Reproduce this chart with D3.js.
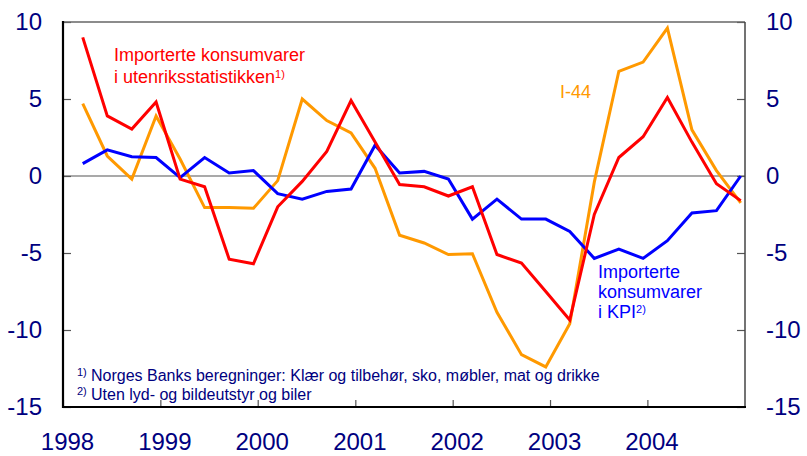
<!DOCTYPE html>
<html>
<head>
<meta charset="utf-8">
<script src="https://cdn.jsdelivr.net/npm/d3@7"></script>
<style>
  body { margin: 0; background: #fff; }
  svg text { font-family: "Liberation Sans", Arial, sans-serif; }
</style>
</head>
<body>
<div id="chart"></div>
<script>
/********** Data **********/
// quarterly observations, 1998Q1 - 2004Q4 (plotted at the last month of each quarter)
var years = [1998, 1999, 2000, 2001, 2002, 2003, 2004]
var quarters = []
years.forEach(function(y) { for (var q = 1; q <= 4; q++) quarters.push({year: y, q: q}) })

// Importerte konsumvarer i utenriksstatistikken
var utenriks = [9.0, 3.9, 3.05, 4.8, -0.2, -0.7, -5.4, -5.7,
                -2.0, -0.35, 1.6, 4.9, 2.2, -0.55, -0.7, -1.3,
                -0.7, -5.1, -5.65, -7.5, -9.35, -2.5, 1.2, 2.55,
                5.1, 2.2, -0.5, -1.6]
// I-44
var i44 = [4.7, 1.3, -0.2, 3.9, 1.1, -2.05, -2.05, -2.1,
           -0.3, 5.0, 3.6, 2.8, 0.5, -3.85, -4.35, -5.1,
           -5.05, -8.85, -11.6, -12.4, -9.6, -0.4, 6.8, 7.4,
           9.6, 3.0, 0.35, -1.75]
// Importerte konsumvarer i KPI
var kpi = [0.8, 1.7, 1.25, 1.2, -0.1, 1.2, 0.2, 0.35,
           -1.15, -1.5, -1.0, -0.85, 2.0, 0.2, 0.3, -0.2,
           -2.8, -1.5, -2.8, -2.8, -3.6, -5.35, -4.75, -5.35,
           -4.2, -2.4, -2.25, 0.0]

var yTicks = [-15, -10, -5, 0, 5, 10]
var xTickYears = [1998, 1999, 2000, 2001, 2002, 2003, 2004]

var navy = "#000080"

/********** Layout **********/
var width = 807, height = 456
var margin = {top: 22, right: 62, bottom: 49, left: 63}

var svg = d3.select("#chart").append("svg")
    .attr("width", width)
    .attr("height", height)

var x = d3.scaleTime()
    .domain([new Date(1998, 0, 1), new Date(2005, 0, 1)])
    .range([margin.left, width - margin.right])

var y = d3.scaleLinear()
    .domain([-15, 10])
    .range([height - margin.bottom, margin.top])

function qDate(d) { return new Date(d.year, (d.q - 1) * 3 + 2, 16) }

// plain hyphen for negatives, like the original
var yFormat = function(d) { return String(d) }

/********** Axes **********/
var left = svg.append("g")
    .attr("transform", "translate(" + margin.left + ",0)")
    .call(d3.axisLeft(y).tickValues(yTicks).tickFormat(yFormat).tickSize(-8).tickPadding(21))
var right = svg.append("g")
    .attr("transform", "translate(" + (width - margin.right) + ",0)")
    .call(d3.axisRight(y).tickValues(yTicks).tickFormat(yFormat).tickSize(-8).tickPadding(21))
var bottom = svg.append("g")
    .attr("transform", "translate(0," + (height - margin.bottom) + ")")
    .call(d3.axisBottom(x)
      .tickValues(xTickYears.map(function(v) { return new Date(v, 0, 1) }))
      .tickFormat(d3.timeFormat("%Y"))
      .tickSize(-7).tickPadding(26))

;[left, right, bottom].forEach(function(g) {
  g.select(".domain").remove()
  g.selectAll(".tick line").attr("stroke", "#555").attr("stroke-width", 1.2)
  g.selectAll(".tick text").attr("fill", navy).style("font-size", "24px")
})
bottom.selectAll(".tick text").attr("x", 4)

// zero line
svg.append("line")
    .attr("x1", x.range()[0]).attr("x2", x.range()[1])
    .attr("y1", y(0)).attr("y2", y(0))
    .attr("stroke", "#555").attr("stroke-width", 1.2)

// frame
svg.append("line")
    .attr("x1", x.range()[0]).attr("x2", x.range()[1])
    .attr("y1", y(10)).attr("y2", y(10))
    .attr("stroke", "#666").attr("stroke-width", 1.5)
svg.append("line")
    .attr("x1", x.range()[1]).attr("x2", x.range()[1])
    .attr("y1", y(10)).attr("y2", y(-15))
    .attr("stroke", "#444").attr("stroke-width", 1.5)
svg.append("line")
    .attr("x1", x.range()[0]).attr("x2", x.range()[0])
    .attr("y1", y(10) - 1).attr("y2", y(-15) + 1)
    .attr("stroke", "#000").attr("stroke-width", 2.2)
svg.append("line")
    .attr("x1", x.range()[0] - 1).attr("x2", x.range()[1] + 1)
    .attr("y1", y(-15)).attr("y2", y(-15))
    .attr("stroke", "#000").attr("stroke-width", 2.2)

/********** Lines **********/
var line = d3.line()
    .x(function(d, i) { return x(qDate(quarters[i])) })
    .y(function(d) { return y(d) })

var series = [
  {values: i44, color: "#ff9900"},
  {values: kpi, color: "#0000ff"},
  {values: utenriks, color: "#ff0000"}
]
series.forEach(function(s) {
  svg.append("path")
      .datum(s.values)
      .attr("fill", "none")
      .attr("stroke", s.color)
      .attr("stroke-width", 3)
      .attr("stroke-linejoin", "miter")
      .attr("d", line)
})

/********** Labels **********/
function label(lines, px, py, lh, color, sup) {
  var t = svg.append("text")
      .attr("fill", color)
      .style("font-size", "18px")
  lines.forEach(function(l, i) {
    t.append("tspan").attr("x", px).attr("y", py + i * lh).text(l)
  })
  if (sup) {
    t.append("tspan")
      .attr("dy", "-5")
      .style("font-size", "11px")
      .text(sup)
  }
}
label(["Importerte konsumvarer", "i utenriksstatistikken"], 114, 61, 22, "#ff0000", "1)")
label(["I-44"], 560, 98, 20, "#ff9900")
label(["Importerte", "konsumvarer", "i KPI"], 598, 278, 20, "#0000ff", "2)")

// footnotes
var notes = ["Norges Banks beregninger: Klær og tilbehør, sko, møbler, mat og drikke",
             "Uten lyd- og bildeutstyr og biler"]
notes.forEach(function(n, i) {
  svg.append("text")
      .attr("x", 77).attr("y", 376 + i * 19)
      .attr("fill", navy)
      .style("font-size", "11px")
      .text((i + 1) + ")")
  svg.append("text")
      .attr("x", 91).attr("y", 381 + i * 19)
      .attr("fill", navy)
      .style("font-size", "16px")
      .text(n)
})
</script>
</body>
</html>
